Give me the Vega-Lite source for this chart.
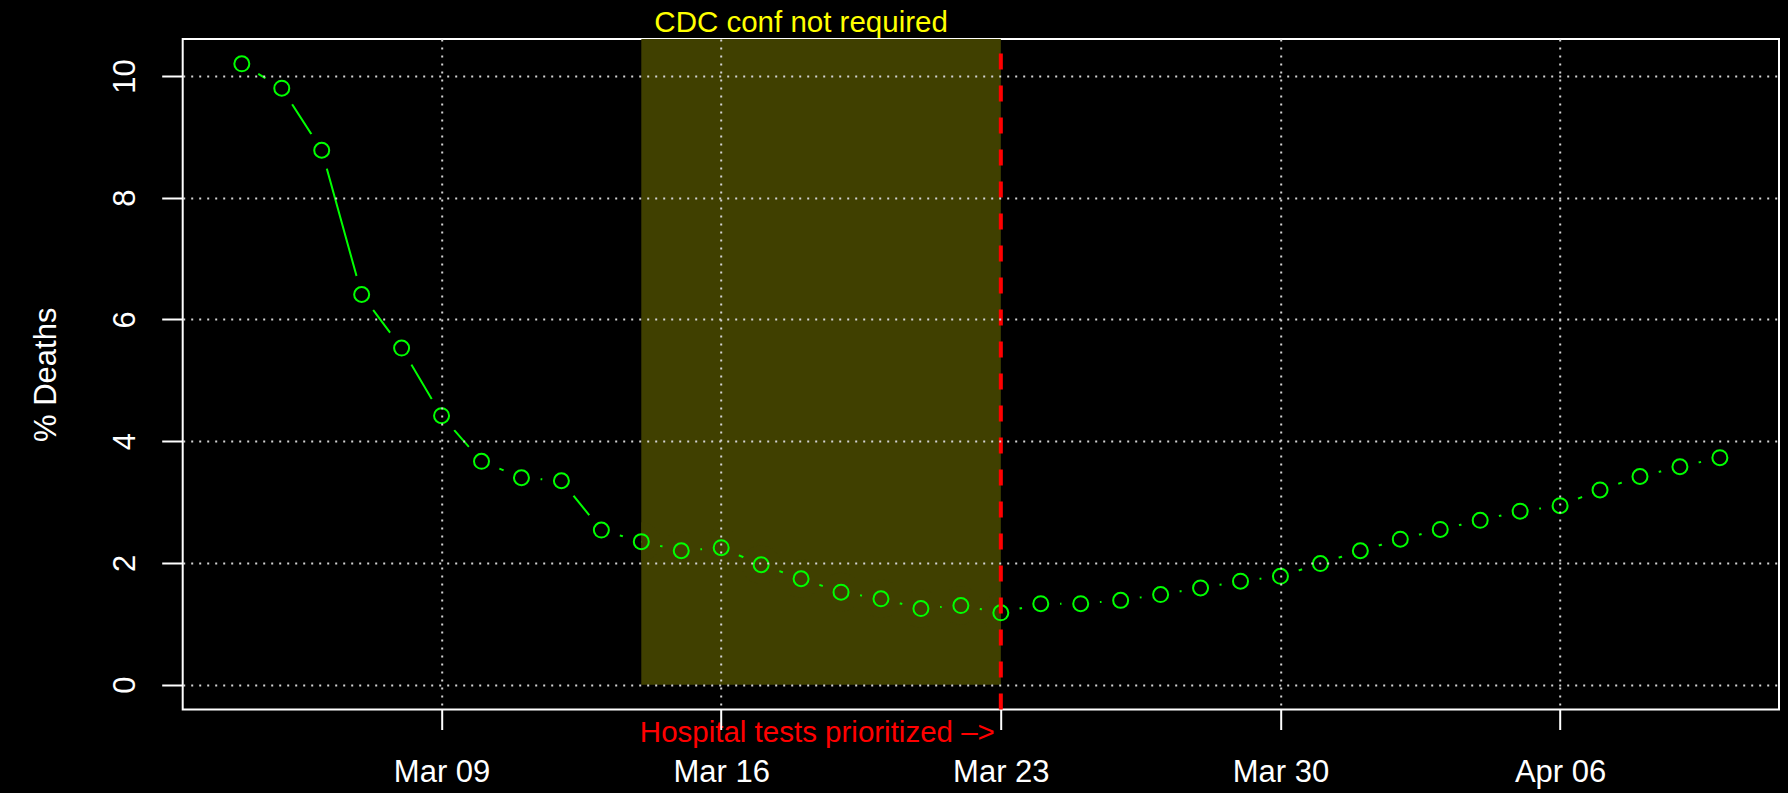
{
  "$schema": "https://vega.github.io/schema/vega-lite/v6.json",
  "width": 1596.3,
  "height": 670.5,
  "autosize": {"type": "none"},
  "padding": {"left": 182.7, "top": 39, "right": 9, "bottom": 83.5},
  "background": "black",
  "config": {
    "view": {"stroke": "white", "strokeWidth": 2},
    "font": "Liberation Sans"
  },
  "datasets": {
    "deaths": [
      {"date": "2020-03-04", "pct": 10.2},
      {"date": "2020-03-05", "pct": 9.80},
      {"date": "2020-03-06", "pct": 8.78},
      {"date": "2020-03-07", "pct": 6.41},
      {"date": "2020-03-08", "pct": 5.53},
      {"date": "2020-03-09", "pct": 4.42},
      {"date": "2020-03-10", "pct": 3.67},
      {"date": "2020-03-11", "pct": 3.40},
      {"date": "2020-03-12", "pct": 3.35},
      {"date": "2020-03-13", "pct": 2.54},
      {"date": "2020-03-14", "pct": 2.35},
      {"date": "2020-03-15", "pct": 2.20},
      {"date": "2020-03-16", "pct": 2.25},
      {"date": "2020-03-17", "pct": 1.97},
      {"date": "2020-03-18", "pct": 1.74},
      {"date": "2020-03-19", "pct": 1.52},
      {"date": "2020-03-20", "pct": 1.41},
      {"date": "2020-03-21", "pct": 1.25},
      {"date": "2020-03-22", "pct": 1.30},
      {"date": "2020-03-23", "pct": 1.18},
      {"date": "2020-03-24", "pct": 1.33},
      {"date": "2020-03-25", "pct": 1.33},
      {"date": "2020-03-26", "pct": 1.385},
      {"date": "2020-03-27", "pct": 1.48},
      {"date": "2020-03-28", "pct": 1.59},
      {"date": "2020-03-29", "pct": 1.70},
      {"date": "2020-03-30", "pct": 1.78},
      {"date": "2020-03-31", "pct": 1.99},
      {"date": "2020-04-01", "pct": 2.20},
      {"date": "2020-04-02", "pct": 2.39},
      {"date": "2020-04-03", "pct": 2.55},
      {"date": "2020-04-04", "pct": 2.70},
      {"date": "2020-04-05", "pct": 2.85},
      {"date": "2020-04-06", "pct": 2.94},
      {"date": "2020-04-07", "pct": 3.20},
      {"date": "2020-04-08", "pct": 3.42},
      {"date": "2020-04-09", "pct": 3.58},
      {"date": "2020-04-10", "pct": 3.73}
    ]
  },
  "layer": [
    {
      "data": {"name": "deaths"},
      "encoding": {
        "x": {
          "field": "date", "type": "temporal", "title": null,
          "scale": {"type": "utc", "domain": [
            {"year": 2020, "month": 3, "date": 2, "hours": 12, "minutes": 28, "seconds": 48, "utc": true},
            {"year": 2020, "month": 4, "date": 11, "hours": 11, "minutes": 31, "seconds": 12, "utc": true}
          ]},
          "axis": {
            "title": null,
            "values": [
              {"year": 2020, "month": 3, "date": 9, "utc": true},
              {"year": 2020, "month": 3, "date": 16, "utc": true},
              {"year": 2020, "month": 3, "date": 23, "utc": true},
              {"year": 2020, "month": 3, "date": 30, "utc": true},
              {"year": 2020, "month": 4, "date": 6, "utc": true}
            ],
            "labelExpr": "['Jan','Feb','Mar','Apr','May','Jun','Jul','Aug','Sep','Oct','Nov','Dec'][utcmonth(datum.value)] + ' ' + (utcdate(datum.value) < 10 ? '0' : '') + utcdate(datum.value)",
            "domain": false,
            "ticks": true, "tickColor": "white", "tickSize": 20, "tickWidth": 2,
            "labelColor": "white", "labelFontSize": 31, "labelFont": "Liberation Sans",
            "labelBaseline": "alphabetic", "labelPadding": 52, "labelFlush": false,
            "grid": true, "gridColor": "#D3D3D3", "gridDash": [2, 6], "gridWidth": 2,
            "gridOpacity": {"condition": {"test": "time(datum.value) == utc(2020,2,23)", "value": 0}, "value": 1},
            "zindex": 1
          }
        },
        "y": {
          "field": "pct", "type": "quantitative", "title": "% Deaths",
          "scale": {"domain": [-0.408, 10.608], "nice": false, "zero": false},
          "axis": {
            "title": "% Deaths",
            "values": [0, 2, 4, 6, 8, 10],
            "labelExpr": "format(datum.value, 'd')",
            "domain": false,
            "ticks": true, "tickColor": "white", "tickSize": 21, "tickWidth": 2,
            "labelColor": "white", "labelFontSize": 31, "labelFont": "Liberation Sans",
            "labelAngle": 270, "labelAlign": "center", "labelBaseline": "alphabetic",
            "labelPadding": 27,
            "grid": true, "gridColor": "#D3D3D3", "gridDash": [2, 6], "gridWidth": 2,
            "titleColor": "white", "titleFontSize": 31, "titleFont": "Liberation Sans",
            "titleFontWeight": "normal", "titleAngle": 270, "titleAlign": "center",
            "titleBaseline": "alphabetic", "titleX": -127.7, "titleY": 335.25,
            "zindex": 1
          }
        }
      },
      "layer": [
        {"mark": {"type": "line", "color": "#00FF00", "strokeWidth": 2}},
        {"mark": {"type": "point", "shape": "circle", "filled": true, "color": "black", "opacity": 1, "size": 1490, "strokeWidth": 0}}
      ]
    },
    {
      "data": {"values": [{"start": "2020-03-14", "end": "2020-03-23"}]},
      "mark": {"type": "rect", "color": "#404000", "opacity": 1},
      "encoding": {
        "x": {"field": "start", "type": "temporal", "title": null},
        "x2": {"field": "end"},
        "y": {"datum": 0, "type": "quantitative", "title": "% Deaths"},
        "y2": {"datum": 10.608}
      }
    },
    {
      "data": {"name": "deaths"},
      "encoding": {
        "x": {"field": "date", "type": "temporal", "title": null},
        "y": {"field": "pct", "type": "quantitative", "title": "% Deaths"}
      },
      "layer": [
        {
          "transform": [{"filter": "time(datum.date) >= utc(2020,2,14) && time(datum.date) <= utc(2020,2,23)"}],
          "mark": {"type": "line", "color": "#00FF00", "strokeWidth": 2}
        },
        {
          "transform": [{"filter": "time(datum.date) > utc(2020,2,14) && time(datum.date) < utc(2020,2,23)"}],
          "mark": {"type": "point", "shape": "circle", "filled": true, "color": "#404000", "opacity": 1, "size": 1490, "strokeWidth": 0}
        },
        {
          "transform": [{"filter": "time(datum.date) == utc(2020,2,14)"}],
          "mark": {"type": "point", "shape": "M0,-1A1,1,0,0,1,0,1Z", "filled": true, "color": "#404000", "opacity": 1, "size": 1490, "strokeWidth": 0}
        },
        {
          "transform": [{"filter": "time(datum.date) == utc(2020,2,23)"}],
          "mark": {"type": "point", "shape": "M0,-1A1,1,0,0,0,0,1Z", "filled": true, "color": "#404000", "opacity": 1, "size": 1490, "strokeWidth": 0}
        },
        {"mark": {"type": "point", "shape": "circle", "filled": false, "color": "#00FF00", "opacity": 1, "size": 225, "strokeWidth": 2}}
      ]
    },
    {
      "data": {"values": [{"date": "2020-03-23"}]},
      "mark": {"type": "rule", "color": "#FF0000", "strokeWidth": 4, "strokeDash": [16, 16], "strokeCap": "butt", "opacity": 1},
      "encoding": {
        "x": {"field": "date", "type": "temporal", "title": null},
        "y": {"datum": -0.408, "type": "quantitative", "title": "% Deaths"},
        "y2": {"datum": 10.608}
      }
    },
    {
      "data": {"values": [{"date": "2020-03-18", "label": "CDC conf not required"}]},
      "mark": {"type": "text", "color": "#FFFF00", "fontSize": 29.5, "font": "Liberation Sans", "align": "center", "baseline": "alphabetic"},
      "encoding": {
        "x": {"field": "date", "type": "temporal", "title": null},
        "y": {"datum": 10.718, "type": "quantitative", "title": "% Deaths"},
        "text": {"field": "label"}
      }
    },
    {
      "data": {"values": [{"date": "2020-03-23", "label": "Hospital tests prioritized –>"}]},
      "mark": {"type": "text", "color": "#FF0000", "fontSize": 29.5, "font": "Liberation Sans", "align": "right", "baseline": "alphabetic", "dx": -6},
      "encoding": {
        "x": {"field": "date", "type": "temporal", "title": null},
        "y": {"datum": -0.943, "type": "quantitative", "title": "% Deaths"},
        "text": {"field": "label"}
      }
    }
  ]
}
